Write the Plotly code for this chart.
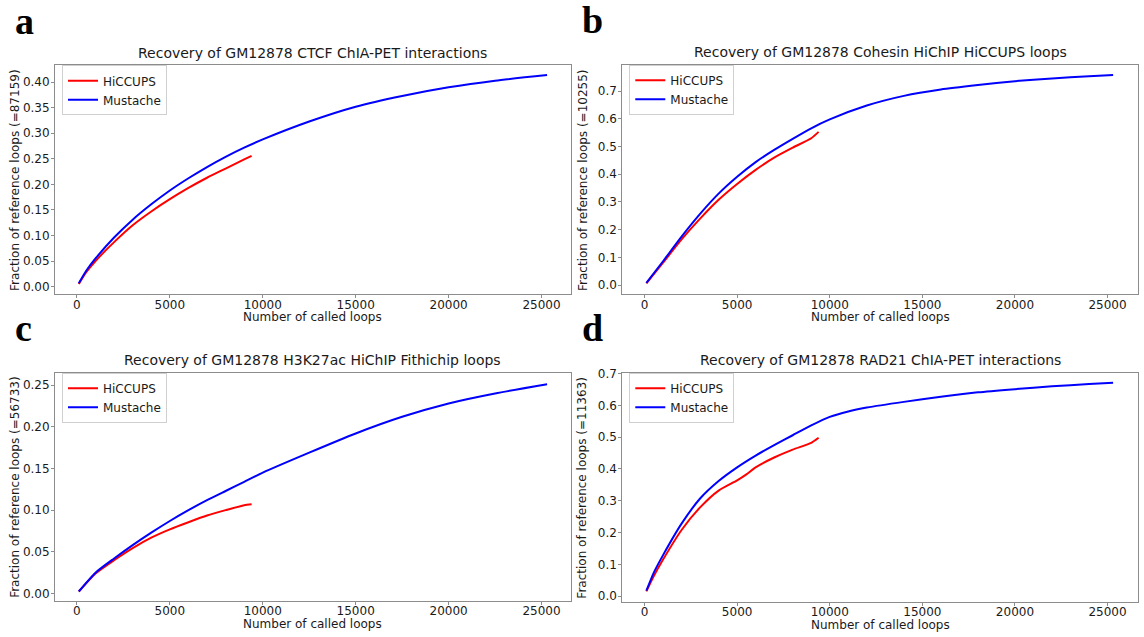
import plotly.graph_objects as go

W, H = 1144, 637

# ---------------- data ----------------
PANELS = ["a", "b", "c", "d"]
TITLES = [
    "Recovery of GM12878 CTCF ChIA-PET interactions",
    "Recovery of GM12878 Cohesin HiChIP HiCCUPS loops",
    "Recovery of GM12878 H3K27ac HiChIP Fithichip loops",
    "Recovery of GM12878 RAD21 ChIA-PET interactions",
]
YLABELS = [
    "Fraction of reference loops (=87159)",
    "Fraction of reference loops (=10255)",
    "Fraction of reference loops (=56733)",
    "Fraction of reference loops (=11363)",
]
XLABEL = "Number of called loops"
SERIES = ["HiCCUPS", "Mustache"]

A_HICCUPS_X = [100, 500, 1000, 2000, 3000, 4000, 5000, 6000, 7000, 8000, 9000, 9400]
A_HICCUPS_Y = [0.005, 0.028, 0.050, 0.087, 0.120, 0.147, 0.171, 0.193, 0.213, 0.231, 0.249, 0.256]
A_MUSTACHE_X = [100, 500, 1000, 2000, 3000, 4000, 5000, 6000, 7000, 8000, 9000, 10000,
                12500, 15000, 17500, 20000, 22500, 25300]
A_MUSTACHE_Y = [0.0065, 0.031, 0.055, 0.096, 0.131, 0.161, 0.188, 0.212, 0.234, 0.254, 0.272, 0.288,
                0.323, 0.352, 0.373, 0.390, 0.403, 0.414]

B_HICCUPS_X = [100, 1000, 2000, 3000, 4000, 5000, 6000, 7000, 8000, 9000, 9400]
B_HICCUPS_Y = [0.006, 0.081, 0.165, 0.240, 0.308, 0.365, 0.416, 0.460, 0.496, 0.530, 0.553]
B_MUSTACHE_X = [100, 1000, 2000, 3000, 4000, 5000, 6000, 7000, 8000, 9000, 10000,
                12000, 14000, 16000, 18000, 20000, 22000, 24000, 25300]
B_MUSTACHE_Y = [0.008, 0.086, 0.175, 0.257, 0.330, 0.391, 0.444, 0.488, 0.528, 0.566, 0.598,
                0.648, 0.683, 0.706, 0.722, 0.736, 0.746, 0.754, 0.758]

C_HICCUPS_X = [100, 1000, 2000, 3000, 4000, 5000, 6000, 7000, 8000, 9000, 9400]
C_HICCUPS_Y = [0.0024, 0.024, 0.040, 0.0545, 0.067, 0.077, 0.0855, 0.0935, 0.100, 0.106, 0.107]
C_MUSTACHE_X = [100, 1000, 2000, 3000, 4000, 5000, 6000, 7000, 8000, 9000, 10000,
                12500, 15000, 17500, 20000, 22500, 25300]
C_MUSTACHE_Y = [0.0024, 0.025, 0.042, 0.058, 0.073, 0.087, 0.100, 0.112, 0.123, 0.134, 0.145,
                0.169, 0.192, 0.212, 0.228, 0.240, 0.251]

D_HICCUPS_X = [100, 500, 1000, 2000, 3000, 4000, 5000, 5500, 6000, 7000, 8000, 9000, 9400]
D_HICCUPS_Y = [0.015, 0.063, 0.115, 0.208, 0.279, 0.332, 0.364, 0.383, 0.405, 0.436, 0.461, 0.482, 0.498]
D_MUSTACHE_X = [100, 500, 1000, 2000, 3000, 4000, 5000, 6000, 7000, 8000, 9000, 10000, 11000,
                12000, 14000, 16000, 18000, 20000, 22000, 24000, 25300]
D_MUSTACHE_Y = [0.017, 0.074, 0.129, 0.228, 0.307, 0.362, 0.405, 0.442, 0.475, 0.506, 0.537, 0.564, 0.581,
                0.593, 0.611, 0.627, 0.641, 0.651, 0.660, 0.667, 0.671]

X_TICKS = [0, 5000, 10000, 15000, 20000, 25000]
Y_TICKS = [
    [0.00, 0.05, 0.10, 0.15, 0.20, 0.25, 0.30, 0.35, 0.40],
    [0.0, 0.1, 0.2, 0.3, 0.4, 0.5, 0.6, 0.7],
    [0.00, 0.05, 0.10, 0.15, 0.20, 0.25],
    [0.0, 0.1, 0.2, 0.3, 0.4, 0.5, 0.6, 0.7],
]
Y_FORMATS = [".2f", ".1f", ".2f", ".1f"]

DATA = [
    [(A_HICCUPS_X, A_HICCUPS_Y), (A_MUSTACHE_X, A_MUSTACHE_Y)],
    [(B_HICCUPS_X, B_HICCUPS_Y), (B_MUSTACHE_X, B_MUSTACHE_Y)],
    [(C_HICCUPS_X, C_HICCUPS_Y), (C_MUSTACHE_X, C_MUSTACHE_Y)],
    [(D_HICCUPS_X, D_HICCUPS_Y), (D_MUSTACHE_X, D_MUSTACHE_Y)],
]
COLORS = ["#ff0000", "#0000ff"]

# ---------------- layout geometry (pixels) ----------------
BOXES = [
    (55, 60, 570.5, 291.7),
    (622.3, 59.5, 1138.3, 291.7),
    (55, 370.7, 570.5, 601.7),
    (622.3, 370.7, 1138.3, 602.7),
]
X_RANGES = [[-1180, 26560], [-1200, 26660], [-1180, 26560], [-1200, 26660]]
Y_RANGES = [[-0.0155, 0.433], [-0.034, 0.795], [-0.0091, 0.265], [-0.0187, 0.703]]


def px(x):
    return x / W


def py(y):
    return 1 - y / H


SPINE = "#8c8c8c"
FONT = "DejaVu Sans"
TXT = "#1a1a1a"

fig = go.Figure()
layout = dict(
    width=W, height=H,
    margin=dict(l=0, r=0, t=0, b=0),
    paper_bgcolor="white", plot_bgcolor="white",
    font=dict(family=FONT, size=12, color=TXT),
    annotations=[],
)

for i, (name, box) in enumerate(zip(PANELS, BOXES)):
    l, t, r, b = box
    sfx = "" if i == 0 else str(i + 1)
    leg = "legend" if i == 0 else f"legend{i + 1}"
    for j, s in enumerate(SERIES):
        xs, ys = DATA[i][j]
        fig.add_trace(go.Scatter(
            x=xs, y=ys, mode="lines", name=s,
            line=dict(color=COLORS[j], width=2, shape="spline", smoothing=0.6),
            xaxis="x" + sfx, yaxis="y" + sfx, legend=leg,
        ))
    axcommon = dict(
        showgrid=False, zeroline=False, showline=True, mirror=True,
        linecolor=SPINE, linewidth=1, ticks="outside", ticklen=3,
        tickcolor=SPINE, tickwidth=1,
        tickfont=dict(family=FONT, size=12, color=TXT),
    )
    layout["xaxis" + sfx] = dict(
        domain=[px(l), px(r)], anchor="y" + sfx, range=X_RANGES[i],
        tickvals=X_TICKS, tickformat="d", ticklabelstandoff=-4, **axcommon,
    )
    layout["yaxis" + sfx] = dict(
        domain=[py(b), py(t)], anchor="x" + sfx, range=Y_RANGES[i],
        tickvals=Y_TICKS[i], tickformat=Y_FORMATS[i], ticklabelstandoff=-1, **axcommon,
    )
    layout[leg] = dict(
        x=px(l + 7), y=py(t), xanchor="left", yanchor="top",
        bgcolor="rgba(255,255,255,0.8)", bordercolor="#d0d0d0", borderwidth=1,
        font=dict(family=FONT, size=12, color=TXT), itemwidth=30,
        tracegroupgap=0,
    )
    cx = (l + r) / 2
    layout["annotations"].append(dict(
        text=TITLES[i], x=px(cx), y=py(t - 12.5), xref="paper", yref="paper",
        xanchor="center", yanchor="middle", showarrow=False,
        font=dict(family=FONT, size=14, color=TXT),
    ))
    layout["annotations"].append(dict(
        text=XLABEL, x=px(cx), y=py(b + 23), xref="paper", yref="paper",
        xanchor="center", yanchor="middle", showarrow=False,
        font=dict(family=FONT, size=12, color=TXT),
    ))
    layout["annotations"].append(dict(
        text=YLABELS[i], x=px(l - 40), y=py((t + b) / 2), xref="paper", yref="paper",
        xanchor="center", yanchor="middle", showarrow=False, textangle=-90,
        font=dict(family=FONT, size=12, color=TXT),
    ))
    layout["annotations"].append(dict(
        text=f"<b>{name}</b>", x=px(l - 42), y=py(t - 45), xref="paper", yref="paper",
        xanchor="left", yanchor="middle", showarrow=False,
        font=dict(family="Liberation Serif", size=38, color="#000000"),
    ))

fig.update_layout(**layout)
fig.write_html("out.html")
